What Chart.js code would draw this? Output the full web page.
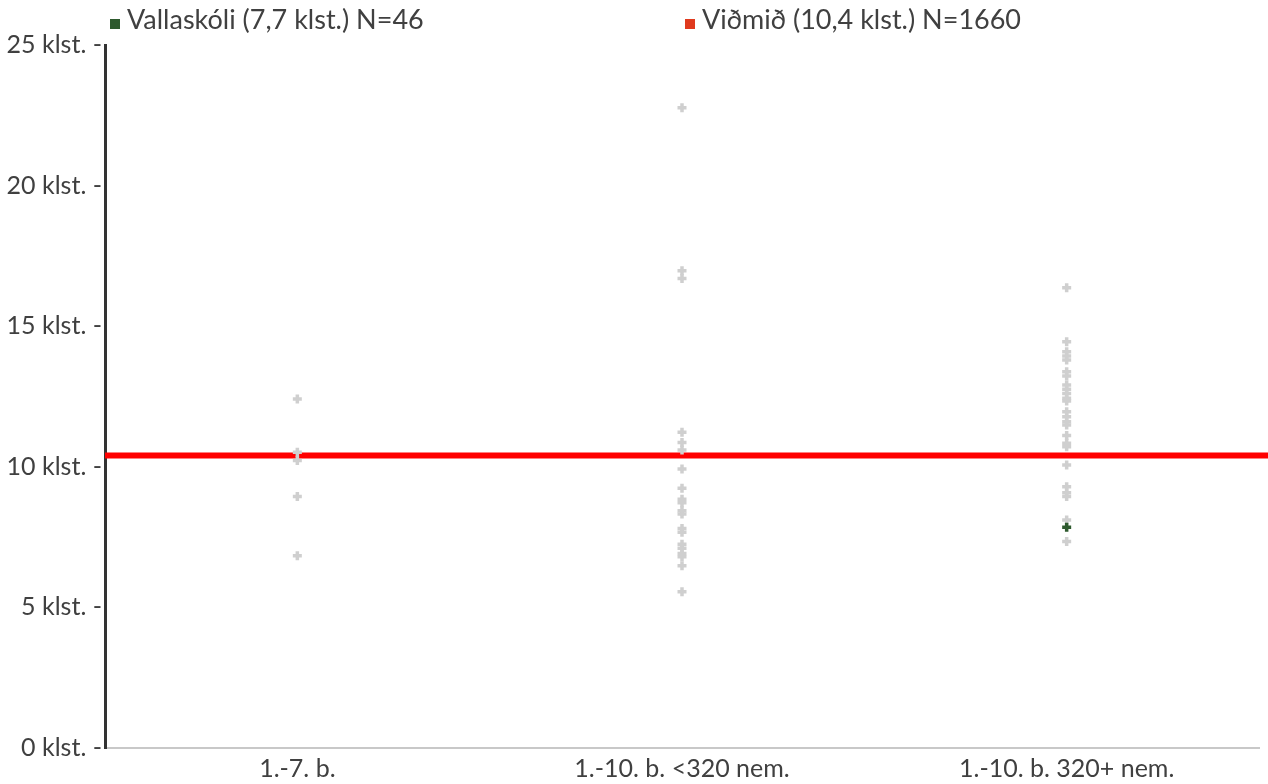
<!DOCTYPE html>
<html>
<head>
<meta charset="utf-8">
<script src="https://cdn.jsdelivr.net/npm/chart.js@4"></script>
<style>
  html, body { margin: 0; padding: 0; background: #fff; }
  #wrap { position: relative; width: 1268px; height: 784px; }
  .leg { position: absolute; top: 2px; font-family: Lato, sans-serif; font-size: 27px; color: #404040; white-space: nowrap; }
  .leg span.box { display: inline-block; width: 10px; height: 10px; margin-right: 7px; }
</style>
</head>
<body>
<div id="wrap">
  <canvas id="chart" width="1268" height="784"></canvas>
  <div class="leg" style="left:110px"><span class="box" style="background:#2e5a2e"></span>Vallaskóli (7,7 klst.) N=46</div>
  <div class="leg" style="left:685px"><span class="box" style="background:#e03a1e"></span>Viðmið (10,4 klst.) N=1660</div>
</div>
<script>
const categories = ['1.-7. b.', '1.-10. b. <320 nem.', '1.-10. b. 320+ nem.'];

// hours per school, other schools (grey points)
const small7 = [12.41, 10.52, 10.22, 8.94, 6.84];
const small10 = [22.77, 16.97, 16.70, 11.23, 10.86, 10.6, 9.92, 9.24, 8.85, 8.72, 8.44, 8.32,
                 7.81, 7.67, 7.25, 7.10, 6.92, 6.80, 6.48, 5.56];
const large10 = [16.37, 14.45, 14.09, 13.94, 13.80, 13.38, 13.23, 12.91, 12.76, 12.61, 12.44, 12.34,
                 11.96, 11.78, 11.60, 11.49, 11.11, 10.84, 10.71, 10.06, 9.29, 9.08, 8.94, 8.11, 7.34];

const schoolGroup = categories[2];
const schoolValue = 7.85;
const benchmark = 10.4;

const greyPts = [];
small7.forEach(v => greyPts.push({x: categories[0], y: v}));
small10.forEach(v => greyPts.push({x: categories[1], y: v}));
large10.forEach(v => greyPts.push({x: categories[2], y: v}));

const font = 'Lato, sans-serif';

new Chart(document.getElementById('chart'), {
  type: 'scatter',
  data: {
    datasets: [
      {
        label: 'Viðmið',
        type: 'line',
        data: [{x: 0, y: benchmark}, {x: 1.1, y: benchmark}],
        xAxisID: 'x2',
        borderColor: '#ff0000',
        borderWidth: 6,
        pointRadius: 0,
        clip: {left: 0, top: 0, right: 9, bottom: 0},
        order: 3
      },
      {
        label: 'Aðrir',
        data: greyPts,
        pointStyle: 'cross',
        pointRadius: 4.5,
        borderWidth: 3.5,
        borderColor: '#cfcfcf',
        backgroundColor: '#cfcfcf',
        order: 2
      },
      {
        label: 'Vallaskóli',
        data: [{x: schoolGroup, y: schoolValue}],
        pointStyle: 'cross',
        pointRadius: 4.5,
        borderWidth: 3.5,
        borderColor: '#2e5a2e',
        backgroundColor: '#2e5a2e',
        order: 1
      }
    ]
  },
  options: {
    responsive: false,
    animation: false,
    layout: { padding: { top: 45, right: 9, left: 0, bottom: 0 } },
    plugins: { legend: { display: false }, tooltip: { enabled: false } },
    scales: {
      x: {
        type: 'category',
        labels: categories,
        offset: true,
        grid: { display: false, drawTicks: false },
        border: { display: true, color: '#c8c8c8', width: 2 },
        ticks: { font: { family: font, size: 25 }, color: '#404040', padding: 6 },
        afterFit: s => { s.height = 36; }
      },
      x2: {
        type: 'linear',
        display: false,
        min: 0,
        max: 1
      },
      y: {
        min: 0,
        max: 25,
        grid: { display: false, drawTicks: false },
        border: { display: true, color: '#333333', width: 3 },
        ticks: {
          stepSize: 5,
          font: { family: font, size: 25 },
          color: '#404040',
          padding: 3,
          callback: v => v + ' klst. -'
        },
        afterFit: s => { s.width = 105; }
      }
    }
  }
});
</script>
</body>
</html>
